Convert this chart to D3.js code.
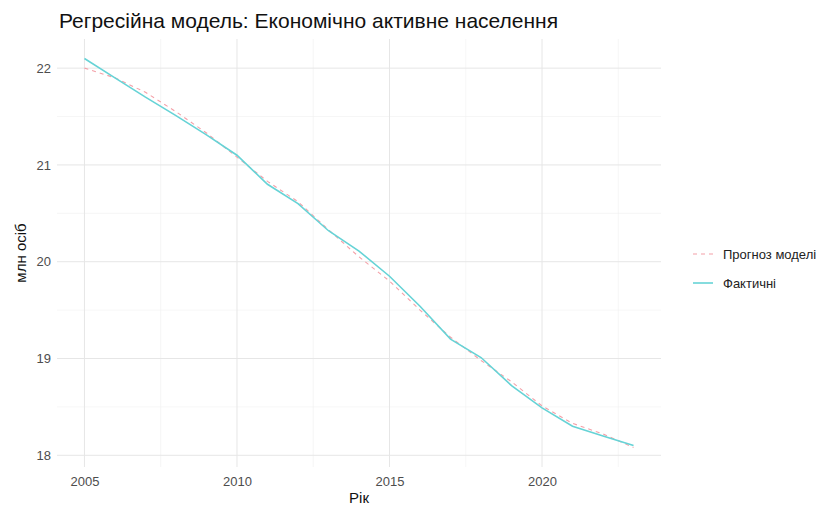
<!DOCTYPE html>
<html>
<head>
<meta charset="utf-8">
<script src="https://cdn.jsdelivr.net/npm/d3@7"></script>
<style>
  body { margin: 0; background: #fff; }
  text { font-family: "Liberation Sans", Arial, sans-serif; }
</style>
</head>
<body>
<div id="chart"></div>
<script>
// data
const years = [2005, 2006, 2007, 2008, 2009, 2010, 2011, 2012, 2013, 2014,
               2015, 2016, 2017, 2018, 2019, 2020, 2021, 2022, 2023];
const actual = [22.10, 21.90, 21.70, 21.51, 21.31, 21.10, 20.80, 20.60, 20.32, 20.11,
                19.85, 19.54, 19.20, 19.01, 18.72, 18.49, 18.30, 18.20, 18.10];
const predicted = [22.00, 21.90, 21.75, 21.55, 21.33, 21.08, 20.83, 20.62, 20.33, 20.05,
                   19.80, 19.50, 19.22, 18.98, 18.76, 18.51, 18.33, 18.22, 18.08];
const xTicks = [2005, 2010, 2015, 2020];
const xMinor = [2007.5, 2012.5, 2017.5, 2022.5];
const yTicks = [18, 19, 20, 21, 22];
const yMinor = [18.5, 19.5, 20.5, 21.5];
const legendLabels = ["Прогноз моделі", "Фактичні"];

const width = 823, height = 506;
const margin = {top: 39, right: 162, bottom: 39, left: 57};

const svg = d3.select("#chart").append("svg")
  .attr("width", width)
  .attr("height", height);

// ggplot-like 5% expansion on both scales
const xExt = d3.extent(years);
const xPad = (xExt[1] - xExt[0]) * 0.05;
const allY = actual.concat(predicted);
const yExt = d3.extent(allY);
const yPad = (yExt[1] - yExt[0]) * 0.05;

const x = d3.scaleLinear()
  .domain([xExt[0] - xPad, xExt[1] + xPad])
  .range([margin.left, width - margin.right]);
const y = d3.scaleLinear()
  .domain([yExt[0] - yPad, yExt[1] + yPad])
  .range([height - margin.bottom, margin.top]);

// grid
const grid = svg.append("g");
grid.selectAll(".xminor").data(xMinor).enter().append("line")
  .attr("x1", d => x(d)).attr("x2", d => x(d))
  .attr("y1", margin.top).attr("y2", height - margin.bottom)
  .attr("stroke", "#f0f0f0").attr("stroke-width", 0.6);
grid.selectAll(".yminor").data(yMinor).enter().append("line")
  .attr("y1", d => y(d)).attr("y2", d => y(d))
  .attr("x1", margin.left).attr("x2", width - margin.right)
  .attr("stroke", "#f0f0f0").attr("stroke-width", 0.6);
grid.selectAll(".xmajor").data(xTicks).enter().append("line")
  .attr("x1", d => x(d)).attr("x2", d => x(d))
  .attr("y1", margin.top).attr("y2", height - margin.bottom)
  .attr("stroke", "#e6e6e6").attr("stroke-width", 1);
grid.selectAll(".ymajor").data(yTicks).enter().append("line")
  .attr("y1", d => y(d)).attr("y2", d => y(d))
  .attr("x1", margin.left).attr("x2", width - margin.right)
  .attr("stroke", "#e6e6e6").attr("stroke-width", 1);

// axes (text only, like theme_minimal)
const xAxis = svg.append("g")
  .attr("transform", `translate(0,${height - margin.bottom})`)
  .call(d3.axisBottom(x).tickValues(xTicks).tickFormat(d3.format("d")).tickSize(0).tickPadding(10));
const yAxis = svg.append("g")
  .attr("transform", `translate(${margin.left},0)`)
  .call(d3.axisLeft(y).tickValues(yTicks).tickFormat(d3.format("d")).tickSize(0).tickPadding(6));
[xAxis, yAxis].forEach(a => {
  a.select(".domain").remove();
  a.selectAll("text").attr("fill", "#4d4d4d").style("font-size", "13px");
});

// lines
const lineOf = vals => d3.line()
  .x((d, i) => x(years[i]))
  .y(d => y(d))(vals);

svg.append("path")
  .attr("d", lineOf(predicted))
  .attr("fill", "none")
  .attr("stroke", "#f4a0a8")
  .attr("stroke-width", 1.1)
  .attr("stroke-dasharray", "4,4");

svg.append("path")
  .attr("d", lineOf(actual))
  .attr("fill", "none")
  .attr("stroke", "#66d3d6")
  .attr("stroke-width", 1.6);

// titles
svg.append("text")
  .attr("x", 59).attr("y", 28)
  .style("font-size", "21px")
  .attr("fill", "#111")
  .text("Регресійна модель: Економічно активне населення");

svg.append("text")
  .attr("x", (x.range()[0] + x.range()[1]) / 2)
  .attr("y", 503)
  .attr("text-anchor", "middle")
  .style("font-size", "15px")
  .attr("fill", "#111")
  .text("Рік");

svg.append("text")
  .attr("transform", `translate(26,${(y.range()[0] + y.range()[1]) / 2}) rotate(-90)`)
  .attr("text-anchor", "middle")
  .style("font-size", "15px")
  .attr("fill", "#111")
  .text("млн осіб");

// legend
const legend = svg.append("g");
const legendY = [254, 283];
legend.append("line")
  .attr("x1", 693).attr("x2", 713)
  .attr("y1", legendY[0]).attr("y2", legendY[0])
  .attr("stroke", "#f4a0a8").attr("stroke-width", 1.1)
  .attr("stroke-dasharray", "4,4");
legend.append("line")
  .attr("x1", 693).attr("x2", 713)
  .attr("y1", legendY[1]).attr("y2", legendY[1])
  .attr("stroke", "#66d3d6").attr("stroke-width", 1.6);
legend.selectAll("text").data(legendLabels).enter().append("text")
  .attr("x", 723)
  .attr("y", (d, i) => legendY[i])
  .attr("dy", "0.35em")
  .style("font-size", "13px")
  .attr("fill", "#222")
  .text(d => d);
</script>
</body>
</html>
